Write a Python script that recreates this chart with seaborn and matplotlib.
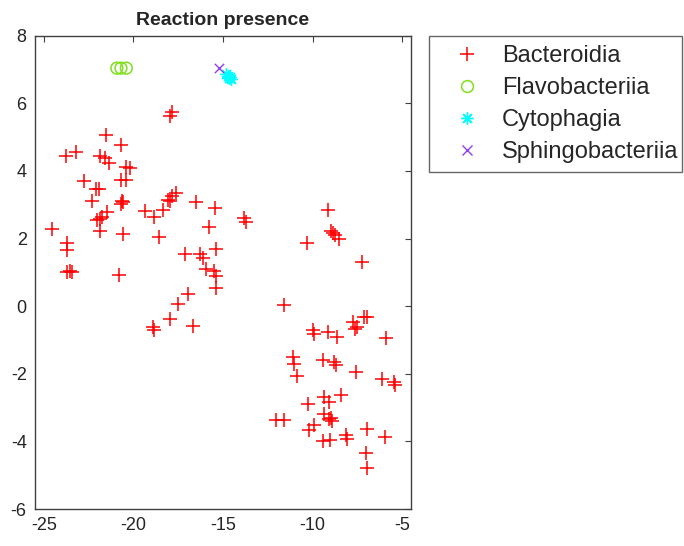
import matplotlib
matplotlib.use("Agg")
import matplotlib.pyplot as plt
import seaborn as sns
import pandas as pd
from matplotlib.lines import Line2D

sns.set_style("white")
plt.rcParams['font.family'] = ['Liberation Sans', 'DejaVu Sans']

title = "Reaction presence"
classes = ["Bacteroidia", "Flavobacteriia", "Cytophagia", "Sphingobacteriia"]

bact_x = [-24.54, -23.78, -23.19, -23.70, -23.70, -23.70, -23.55, -23.45, -22.78, -22.10,
          -21.95, -22.31, -21.52, -21.85, -21.57, -21.39, -21.85, -21.48, -21.76, -21.89,
          -22.04, -20.69, -20.69, -20.41, -20.41, -20.19, -20.72, -20.60, -20.65, -20.56,
          -20.80, -17.96, -17.87, -19.35, -18.83, -18.37, -18.57, -18.06, -17.87, -17.65,
          -17.95, -16.52, -15.46, -15.80, -17.13, -16.30, -16.11, -15.37, -15.96, -15.50,
          -15.37, -15.37, -16.94, -17.50, -17.96, -18.89, -18.85, -16.70, -13.80, -13.74,
          -10.33, -9.13, -8.98, -8.85, -8.75, -8.50, -7.26, -11.61, -9.96, -9.90,
          -9.13, -8.61, -7.72, -7.63, -7.50, -7.13, -6.94, -5.87, -11.11, -11.02,
          -10.87, -9.44, -8.80, -8.70, -7.59, -6.11, -5.46, -5.41, -8.43, -10.28,
          -9.35, -9.07, -9.35, -9.07, -8.98, -8.90, -12.04, -11.57, -10.19, -9.91,
          -9.44, -9.04, -8.15, -8.06, -6.94, -5.93, -7.04, -6.98]
bact_y = [2.27, 4.44, 4.57, 1.86, 1.67, 1.02, 1.05, 1.02, 3.69, 3.46,
          3.46, 3.12, 5.06, 4.44, 4.39, 4.23, 2.58, 2.79, 2.63, 2.22,
          2.56, 4.77, 3.72, 3.74, 4.11, 4.08, 3.02, 3.08, 3.12, 2.12,
          0.93, 5.62, 5.73, 2.81, 2.63, 2.84, 2.06, 3.15, 3.25, 3.35,
          3.12, 3.08, 2.89, 2.34, 1.55, 1.55, 1.42, 1.68, 1.11, 1.05,
          0.90, 0.55, 0.36, 0.07, -0.38, -0.62, -0.72, -0.59, 2.60, 2.50,
          1.86, 2.84, 2.22, 2.15, 2.10, 2.00, 1.32, 0.03, -0.72, -0.82,
          -0.77, -0.91, -0.46, -0.67, -0.62, -0.31, -0.33, -0.93, -1.50, -1.70,
          -2.06, -1.58, -1.65, -1.73, -1.94, -2.14, -2.24, -2.34, -2.63, -2.89,
          -2.68, -2.84, -3.20, -3.35, -3.30, -3.40, -3.37, -3.37, -3.66, -3.51,
          -4.00, -3.97, -3.82, -3.94, -3.64, -3.87, -4.33, -4.80]

flavo_x = [-20.93, -20.70, -20.40]
flavo_y = [7.04, 7.04, 7.04]

cyto_x = [-14.82, -14.72, -14.62, -14.55, -14.66]
cyto_y = [6.88, 6.82, 6.78, 6.72, 6.75]

sphingo_x = [-15.23]
sphingo_y = [7.05]

x_ticks = [-25, -20, -15, -10, -5]
y_ticks = [-6, -4, -2, 0, 2, 4, 6, 8]

colors = {"Bacteroidia": "#ff0000", "Flavobacteriia": "#7fe01e",
          "Cytophagia": "#00ffff", "Sphingobacteriia": "#9040f0"}

fig = plt.figure(figsize=(6.84, 5.46), dpi=100)
ax = fig.add_axes([35/684, 1-509/546, (411-35)/684, (509-35.7)/546])

df_b = pd.DataFrame({"x": bact_x, "y": bact_y})
df_f = pd.DataFrame({"x": flavo_x, "y": flavo_y})
df_c = pd.DataFrame({"x": cyto_x, "y": cyto_y})
df_s = pd.DataFrame({"x": sphingo_x, "y": sphingo_y})

sns.scatterplot(data=df_b, x="x", y="y", ax=ax, marker="+", s=95,
                color=colors["Bacteroidia"], linewidth=1.1, legend=False)
sns.scatterplot(data=df_f, x="x", y="y", ax=ax, marker="o", s=72,
                facecolors="none", edgecolor=colors["Flavobacteriia"],
                linewidth=1.1, legend=False)
sns.scatterplot(data=df_c, x="x", y="y", ax=ax, marker=(8, 2, 0), s=70,
                color=colors["Cytophagia"], linewidth=1.0, legend=False)
sns.scatterplot(data=df_s, x="x", y="y", ax=ax, marker="x", s=45,
                color=colors["Sphingobacteriia"], linewidth=1.0, legend=False)

ax.set_xlim(-25.5, -4.5)
ax.set_ylim(-6, 8)
ax.set_xticks(x_ticks)
ax.set_yticks(y_ticks)
ax.set_xticklabels([str(v) for v in x_ticks])
ax.set_yticklabels([str(v) for v in y_ticks])
ax.set_xlabel("")
ax.set_ylabel("")
ax.tick_params(direction="in", length=4, width=0.8, colors="#404040",
               labelcolor="#262626", labelsize=13, top=True, right=True,
               pad=6)
for sp in ax.spines.values():
    sp.set_visible(True)
    sp.set_color("#404040")
    sp.set_linewidth(1.0)
ax.set_title(title, fontsize=14, fontweight="bold", pad=8)

handles = [
    Line2D([], [], linestyle="none", marker="+", markersize=10, markeredgewidth=1.1,
           color=colors["Bacteroidia"]),
    Line2D([], [], linestyle="none", marker="o", markersize=8.5, markeredgewidth=1.1,
           markerfacecolor="none", markeredgecolor=colors["Flavobacteriia"]),
    Line2D([], [], linestyle="none", marker=(8, 2, 0), markersize=9, markeredgewidth=1.0,
           color=colors["Cytophagia"]),
    Line2D([], [], linestyle="none", marker="x", markersize=6.5, markeredgewidth=1.0,
           color=colors["Sphingobacteriia"]),
]
leg_x0 = 429/684
leg_y1 = 1-35.7/546
leg_w = 253/684
leg_h = 132/546
leg = fig.legend(handles, classes, loc="upper left",
                 bbox_to_anchor=(leg_x0, leg_y1 - leg_h, leg_w, leg_h),
                 mode="expand", borderaxespad=0,
                 fontsize=17, frameon=True, fancybox=False, edgecolor="#404040",
                 handlelength=2.45, handletextpad=0.25, labelspacing=0.42,
                 borderpad=0.4)
leg.get_frame().set_linewidth(1.0)
for t in leg.get_texts():
    t.set_color("#262626")

fig.savefig("out.png", dpi=100)
